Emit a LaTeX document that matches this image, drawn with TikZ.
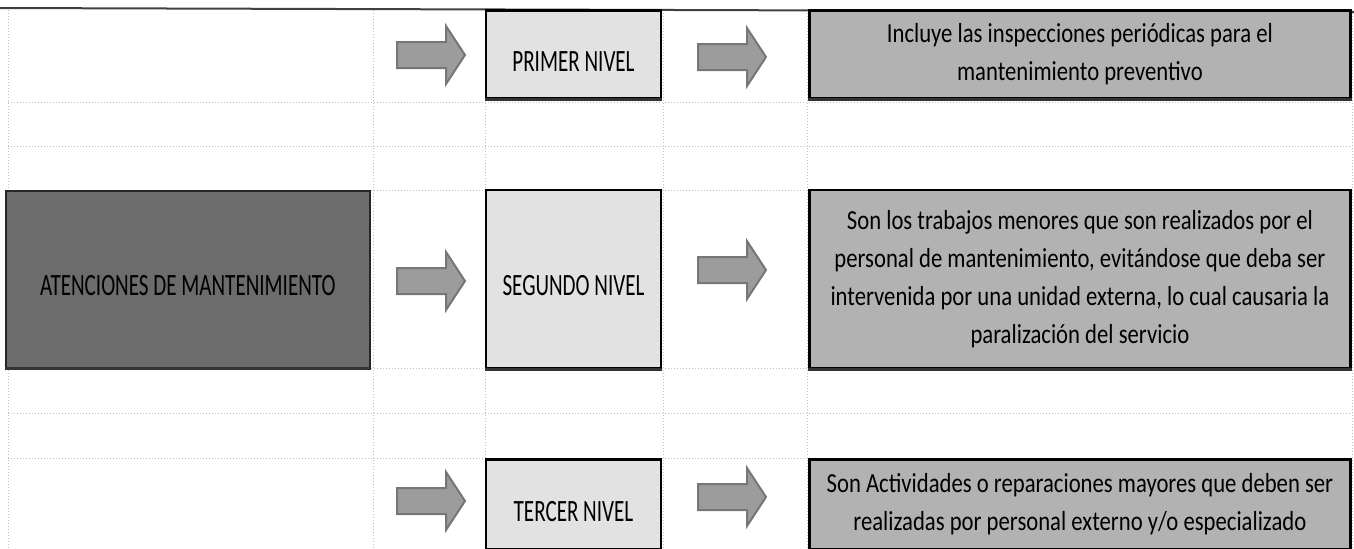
\documentclass[tikz,border=0pt]{standalone}
\usepackage{fontspec}
\setmainfont{Carlito}
\newfontfamily\lvlfont{Carlito}[FakeStretch=0.68]
\newfontfamily\descfont{Carlito}[FakeStretch=0.825]
\usetikzlibrary{positioning}
\definecolor{gridgray}{HTML}{C0C0C0}
\definecolor{lightfill}{HTML}{E2E2E2}
\definecolor{midfill}{HTML}{B2B2B2}
\definecolor{darkfill}{HTML}{6C6C6C}
\definecolor{arrowfill}{HTML}{9C9C9C}
\definecolor{arrowline}{HTML}{767676}

\tikzset{
    gridline/.style={gridgray, line width=0.5pt, densely dotted},
    mainbox/.style={draw=black!85, line width=1pt, fill=darkfill,
        minimum width=182pt, minimum height=88.5pt, inner sep=0pt,
        text height=16.8pt, text depth=0pt,
        font=\lvlfont\fontsize{15.5}{18}\selectfont},
    levelbox/.style={draw=black, line width=1.2pt, fill=lightfill,
        minimum width=87.5pt, inner sep=0pt,
        text height=16.8pt, text depth=0pt,
        font=\lvlfont\fontsize{15.5}{18}\selectfont},
    descbox/.style={draw=black, line width=1.2pt, fill=midfill,
        minimum width=270.5pt, inner sep=0pt, align=center,
        execute at begin node={\rule{0pt}{14pt}},
        font=\descfont\fontsize{13.75}{19}\selectfont},
    blockarr/.pic={
        \draw[arrowline, fill=arrowfill, line width=1pt]
            (-34,-13) -- (15,-13) -- (15,-29) -- (34,0) -- (15,29)
            -- (15,13) -- (-34,13) -- cycle;
    }
}

\begin{document}
\begin{tikzpicture}[x=0.5pt, y=-0.5pt]
    \useasboundingbox (0,0) rectangle (1354,548);

    % hojas de calculo
    \foreach \gy in {102,146,190,368,413,458}
        \draw[gridline] (8,\gy) -- (1352,\gy);
    \foreach \gx in {8,373,485,663,807,1352}
        \draw[gridline] (\gx,10) -- (\gx,548);
    \draw[black!75, line width=1pt] (0,8) -- (1354,12);

    \node[levelbox, minimum height=89pt] (n2) at (573.5,279) {SEGUNDO NIVEL};
    \node[mainbox, left=57pt of n2] (main) {ATENCIONES DE MANTENIMIENTO};
    \node[levelbox, minimum height=44pt, above=44.5pt of n2] (n1) {PRIMER NIVEL};
    \node[levelbox, minimum height=45pt, below=44.5pt of n2] (n3) {TERCER NIVEL};

    \node[descbox, minimum height=44pt, right=73pt of n1,
        execute at begin node={\rule{0pt}{19pt}}] (d1)
        {Incluye las inspecciones periódicas para el\\
         mantenimiento preventivo};
    \node[descbox, minimum height=89pt, right=73pt of n2] (d2)
        {Son los trabajos menores que son realizados por el\\
         personal de mantenimiento, evitándose que deba ser\\
         intervenida por una unidad externa, lo cual causaria la\\
         paralización del servicio};
    \node[descbox, minimum height=45pt, right=73pt of n3] (d3)
        {Son Actividades o reparaciones mayores que deben ser\\
         realizadas por personal externo y/o especializado};

    % sombra inferior
    \foreach \b in {main,n1,n2,n3,d1,d2,d3}
        \draw[black!80, line width=1.5pt] (\b.south west) -- (\b.south east);

    \foreach \ax/\ay in {431/55, 431/281, 431/501, 732/57, 732/270, 732/497}
        \pic at (\ax,\ay) {blockarr};
\end{tikzpicture}
\end{document}
